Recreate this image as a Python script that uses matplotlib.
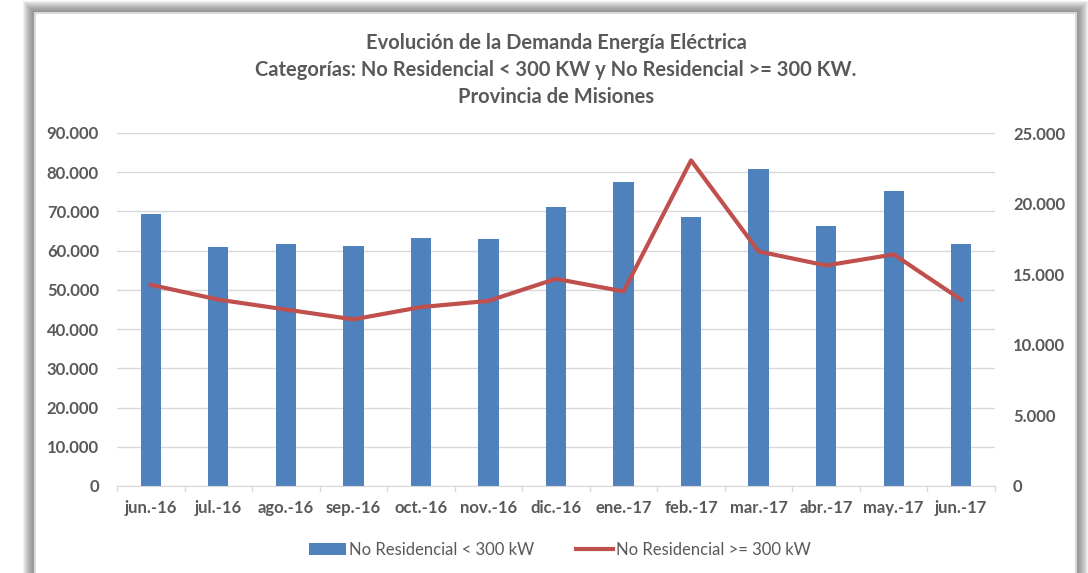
import matplotlib.pyplot as plt
from matplotlib.patches import Rectangle
from matplotlib.ticker import FuncFormatter

months = ['jun.-16', 'jul.-16', 'ago.-16', 'sep.-16', 'oct.-16', 'nov.-16', 'dic.-16',
          'ene.-17', 'feb.-17', 'mar.-17', 'abr.-17', 'may.-17', 'jun.-17']
menor_300 = [69300, 60900, 61600, 61300, 63200, 63000, 71200,
             77400, 68600, 80800, 66200, 75100, 61600]
mayor_300 = [14250, 13200, 12500, 11800, 12670, 13110, 14670,
             13780, 23060, 16610, 15620, 16400, 13190]

plt.rcParams['font.family'] = ['Lato', 'DejaVu Sans']
gray = '#595959'
W, H = 1088, 573

def miles(v, pos):
    return f'{int(v):,}'.replace(',', '.')

fig = plt.figure(figsize=(W / 100, H / 100), dpi=100)

# chart box with blurred gray shadow (left, top, right)
x0, x1, ytop = 35, 1076, 13
for k in range(12, 0, -1):
    fig.patches.append(Rectangle(((x0 - k) / W, -0.1), (x1 - x0 + 2 * k) / W, (H - ytop + k) / H + 0.1,
                                 transform=fig.transFigure, facecolor='#606060', alpha=0.09,
                                 edgecolor='none', zorder=-3))
fig.patches.append(Rectangle((x0 / W, -0.1), (x1 - x0) / W, (H - ytop) / H + 0.1,
                             transform=fig.transFigure, facecolor='white',
                             edgecolor='#d9d9d9', linewidth=1.5, zorder=-2))

ax = fig.add_axes([117 / W, 1 - 486 / H, (995 - 117) / W, 353 / H])
ax.set_facecolor('none')
x = range(len(months))
ax.bar(x, menor_300, width=0.30, color='#4F81BD', label='No Residencial < 300 kW', zorder=2)
ax.set_ylim(0, 90000)
ax.set_yticks(range(0, 90001, 10000))
ax.yaxis.set_major_formatter(FuncFormatter(miles))
ax.set_xlim(-0.5, len(months) - 0.5)
ax.set_xticks(list(x))
ax.set_xticklabels(months)
ax.grid(axis='y', color='#d9d9d9', linewidth=1, zorder=0)
for s in ['top', 'right', 'left']:
    ax.spines[s].set_visible(False)
ax.spines['bottom'].set_color('#d9d9d9')
ax.tick_params(axis='y', length=0, labelsize=12, labelcolor=gray, pad=13)
ax.tick_params(axis='x', length=0, labelsize=12, labelcolor=gray, pad=10)
for t in ax.get_yticklabels() + ax.get_xticklabels():
    t.set_fontweight('bold')

ax2 = ax.twinx()
ax2.plot(x, mayor_300, color='#C0504D', linewidth=3, label='No Residencial >= 300 kW', zorder=3)
ax2.set_ylim(0, 25000)
ax2.set_yticks(range(0, 25001, 5000))
ax2.yaxis.set_major_formatter(FuncFormatter(miles))
for s in ['top', 'right', 'left', 'bottom']:
    ax2.spines[s].set_visible(False)
ax2.tick_params(axis='y', length=0, labelsize=12, labelcolor=gray, pad=13)
for t in ax2.get_yticklabels():
    t.set_fontweight('bold')

# x tick separators
for i in range(len(months) + 1):
    ax.plot([i - 0.5, i - 0.5], [0, -1300], color='#d9d9d9', linewidth=1, clip_on=False)

tx = 556 / W
fig.text(tx, 1 - 43 / H, 'Evolución de la Demanda Energía Eléctrica', ha='center', va='center',
         fontsize=14.5, fontweight='bold', color=gray)
fig.text(tx, 1 - 70 / H, 'Categorías: No Residencial < 300 KW y No Residencial >= 300 KW.',
         ha='center', va='center', fontsize=14.5, fontweight='bold', color=gray)
fig.text(tx, 1 - 97 / H, 'Provincia de Misiones', ha='center', va='center',
         fontsize=14.5, fontweight='bold', color=gray)

h1, l1 = ax.get_legend_handles_labels()
h2, l2 = ax2.get_legend_handles_labels()
fig.legend(h1 + h2, l1 + l2, loc='center', bbox_to_anchor=(0.515, 1 - 550 / H), ncol=2,
           frameon=False, fontsize=12, labelcolor=gray, handlelength=2.2,
           handletextpad=0.2, columnspacing=2.5)

fig.savefig('out.png', dpi=100)
